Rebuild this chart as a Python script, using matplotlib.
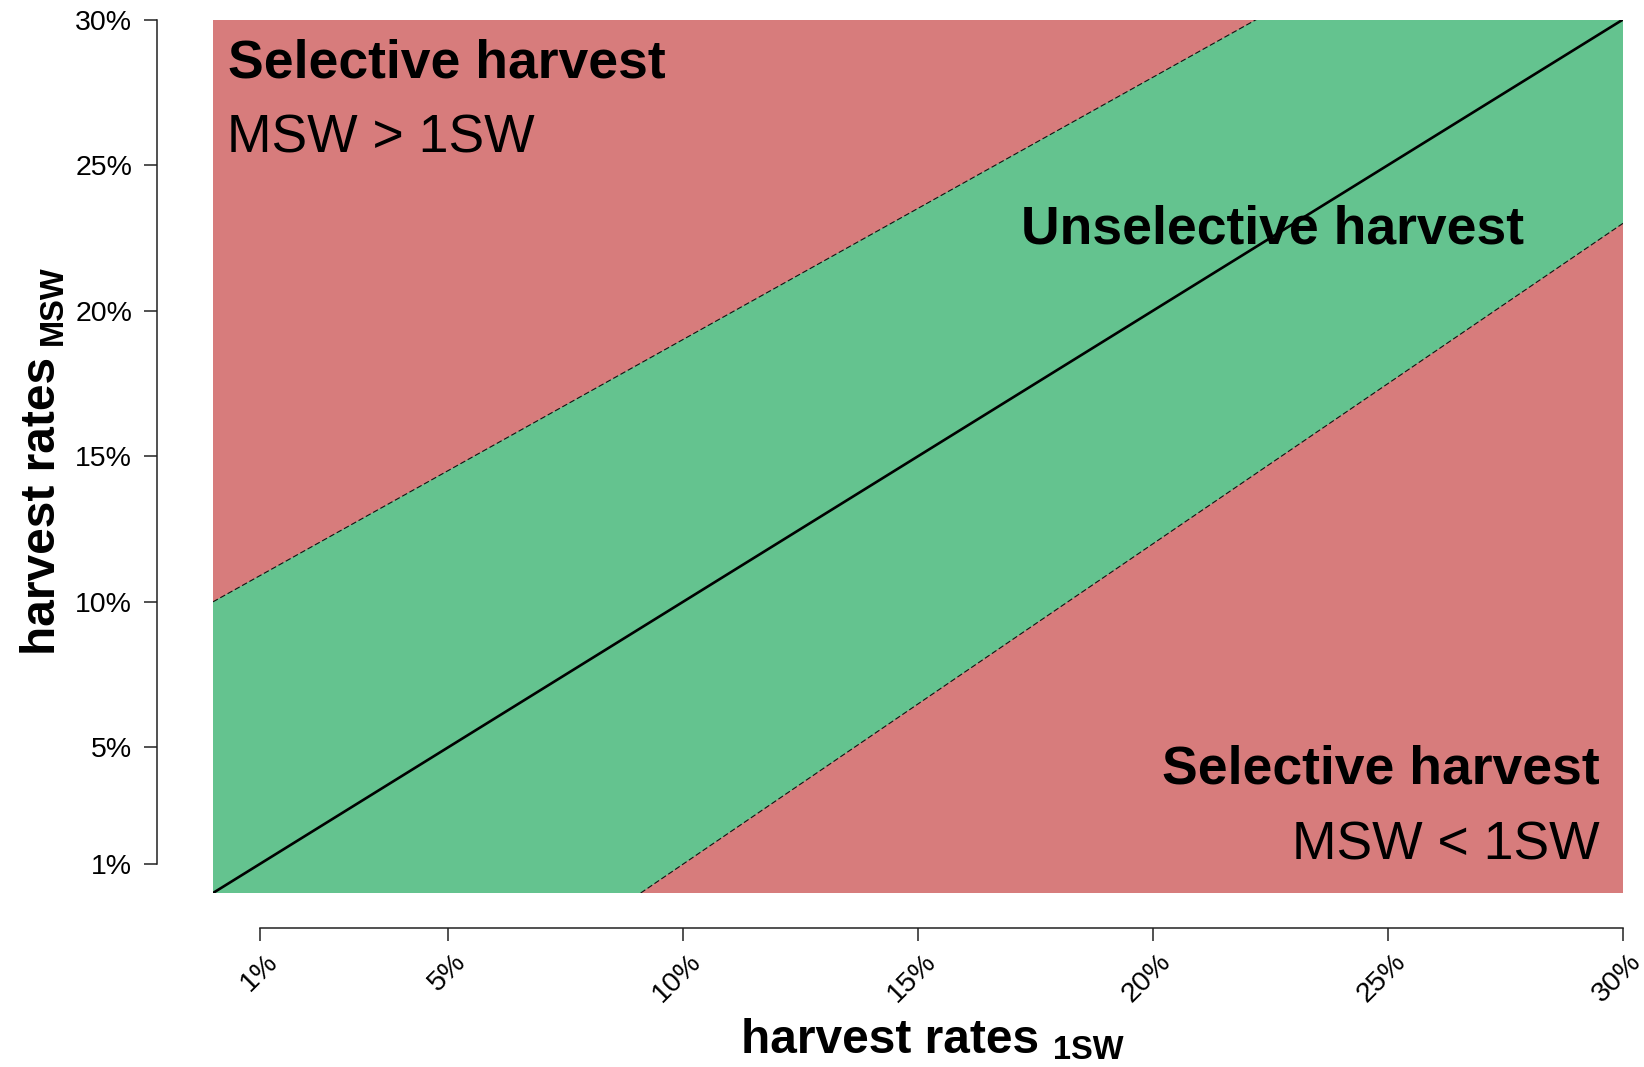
import matplotlib
matplotlib.use("Agg")
import matplotlib.pyplot as plt
from matplotlib.transforms import ScaledTranslation

plt.rcParams['font.family'] = ['Liberation Sans', 'DejaVu Sans']

# Boundary lines of the unselective band (harvest rates in %)
upper_x = [0.0, 22.2]
upper_y = [10.0, 30.0]
lower_x = [9.1, 30.0]
lower_y = [0.0, 23.0]
# Equal harvest rates
equal_x = [0.0, 30.0]
equal_y = [0.0, 30.0]

x_ticks = [1, 5, 10, 15, 20, 25, 30]
y_ticks = [1, 5, 10, 15, 20, 25, 30]
tick_labels = ["1%", "5%", "10%", "15%", "20%", "25%", "30%"]

RED = "#D77C7C"
GREEN = "#64C38F"

W, H = 1644, 1067
fig = plt.figure(figsize=(W / 100, H / 100), dpi=100)


def fx(x):
    return x / W


def fy(y):
    return 1 - y / H


left, right, top, bottom = 213, 1623, 19.5, 893
ax = fig.add_axes([fx(left), fy(bottom), (right - left) / W, (bottom - top) / H])
xmin, xmax, ymin, ymax = 0, 30, 0, 30
ax.set_xlim(xmin, xmax)
ax.set_ylim(ymin, ymax)
ax.set_facecolor(RED)

# Green band between the two boundary lines
band_x = [xmin, upper_x[0], upper_x[1], xmax, lower_x[1], lower_x[0]]
band_y = [ymin, upper_y[0], upper_y[1], ymax, lower_y[1], lower_y[0]]
ax.fill(band_x, band_y, color=GREEN, lw=0, zorder=1)

ax.plot(upper_x, upper_y, color="#111111", lw=0.8, dashes=(5, 2.5), zorder=2)
ax.plot(lower_x, lower_y, color="#111111", lw=0.8, dashes=(5, 2.5), zorder=2)
ax.plot(equal_x, equal_y, color="black", lw=1.9, zorder=3)

# Detached axes in base-graphics style
for s in ["top", "right"]:
    ax.spines[s].set_visible(False)
ax.spines["left"].set_position(("outward", (left - 157) * 0.72))
ax.spines["bottom"].set_position(("outward", (928 - bottom) * 0.72))
ax.spines["left"].set_bounds(1, 30)
ax.spines["bottom"].set_bounds(1, 30)
for s in ["left", "bottom"]:
    ax.spines[s].set_linewidth(1.1)
    ax.spines[s].set_color("#222222")

ax.set_xticks(x_ticks)
ax.set_yticks(y_ticks)
ax.set_yticklabels(tick_labels)
ax.set_xticklabels(tick_labels, rotation=45, ha="right", va="center",
                   rotation_mode="anchor")
ax.tick_params(axis="both", direction="out", length=9.5, width=1.1,
               color="#222222", labelsize=20.5, labelcolor="black")
ax.tick_params(axis="y", pad=8.5)
ax.tick_params(axis="x", pad=12)
offset = ScaledTranslation(14 / 100, 0, fig.dpi_scale_trans)
for lab in ax.get_xticklabels():
    lab.set_transform(lab.get_transform() + offset)

# Region annotations
fig.text(fx(228), fy(77.3), "Selective harvest", fontsize=38.5, fontweight="bold",
         ha="left", va="baseline")
fig.text(fx(227), fy(152.7), "MSW > 1SW", fontsize=38.5,
         ha="left", va="baseline")
fig.text(fx(1021), fy(243), "Unselective harvest", fontsize=38.5, fontweight="bold",
         ha="left", va="baseline")
fig.text(fx(1600), fy(783.3), "Selective harvest", fontsize=38.5, fontweight="bold",
         ha="right", va="baseline")
fig.text(fx(1600), fy(860), "MSW < 1SW", fontsize=38.5,
         ha="right", va="baseline")

# Axis titles with subscripts
renderer = fig.canvas.get_renderer()
xl = fig.text(fx(741), fy(1053), "harvest rates", fontsize=34.5, fontweight="bold",
              ha="left", va="baseline")
bb = xl.get_window_extent(renderer)
fig.text((bb.x1 + 14) / W, fy(1059), "1SW", fontsize=23.5, fontweight="bold",
         ha="left", va="baseline")

yl = fig.text(fx(55), fy(655), "harvest rates", fontsize=34.5, fontweight="bold",
              ha="left", va="baseline", rotation=90, rotation_mode="anchor")
bb = yl.get_window_extent(renderer)
fig.text(fx(62), (bb.y1 + 12) / H, "MSW", fontsize=23.5, fontweight="bold",
         ha="left", va="baseline", rotation=90, rotation_mode="anchor")

fig.savefig("out.png", dpi=100)
